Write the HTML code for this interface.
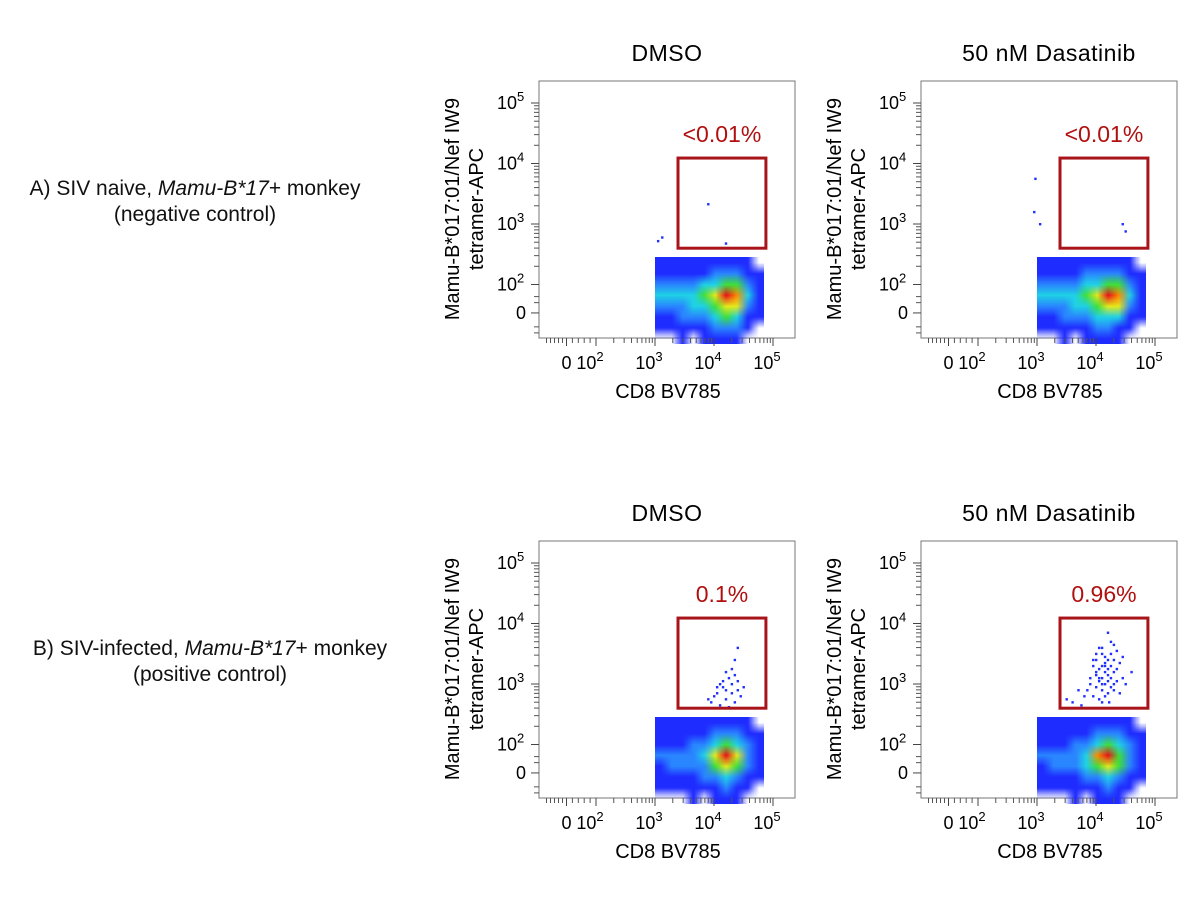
<!DOCTYPE html>
<html><head><meta charset="utf-8">
<style>
body{margin:0;background:#fff;}
#root{position:relative;width:1200px;height:908px;overflow:hidden;font-family:"Liberation Sans",sans-serif;color:#111;}
.rowlab{position:absolute;font-size:21px;text-align:center;line-height:26px;}
</style></head>
<body>
<div id="root">
<div class="rowlab" style="left:0px;top:176px;width:390px;">A) SIV naive, <i>Mamu-B*17</i>+ monkey<br>(negative control)</div>
<div class="rowlab" style="left:10px;top:636px;width:400px;">B) SIV-infected, <i>Mamu-B*17</i>+ monkey<br>(positive control)</div>
<svg id="svg" width="1200" height="908" style="position:absolute;left:0;top:0"></svg>
</div>
<script>
// ---- data ----
const panelTitles = ["DMSO","50 nM Dasatinib","DMSO","50 nM Dasatinib"];
const gateLabels = ["<0.01%","<0.01%","0.1%","0.96%"];
const gateX = [3.39,4.88]; // log10 CD8
const gateY = [2.6,4.09];  // decade units tetramer
const xTickLabels = ["0","2","3","4","5"];
const yTickLabels = ["0","2","3","4","5"];
// density grids: columns = log10 bins from 3.0 step 0.185, rows = decade-unit bins from 2.45 down step 0.18
const densA1 = [
[1,1,1,1,1,1,1,1,1,0],
[1,1,1,1,1,2,2,2,1,1],
[2,2,2,2,3,3,4,4,2,1],
[3,3,3,3,4,5,7,6,3,1],
[2,2,2,3,3,4,5,5,2,1],
[1,1,2,2,2,3,4,3,1,1],
[1,1,1,1,1,2,2,2,1,0],
[0,0,1,0,1,1,1,1,0,0]];
const densA2 = [
[1,1,1,1,1,1,1,1,1,0],
[1,1,1,1,2,2,2,2,1,1],
[2,2,2,2,3,3,4,4,2,1],
[3,3,3,3,4,5,7,6,3,1],
[2,2,2,3,3,4,5,5,2,1],
[1,1,2,2,2,3,3,3,1,1],
[1,1,1,1,1,2,2,1,1,0],
[0,0,1,0,1,1,1,1,0,0]];
const densB1 = [
[1,1,1,1,1,1,1,1,1,0],
[1,1,1,1,1,2,2,2,1,1],
[1,1,1,2,2,3,4,3,2,1],
[2,2,2,2,3,5,7,5,2,1],
[1,2,2,2,2,4,5,4,2,1],
[1,1,1,1,2,2,3,2,1,1],
[1,1,1,1,1,1,2,1,1,0],
[0,0,0,1,0,1,1,1,0,0]];
const densB2 = [
[1,1,1,1,1,1,1,1,1,0],
[1,1,1,1,1,2,2,2,1,1],
[1,1,1,2,2,3,4,3,2,1],
[2,2,2,2,3,6,7,4,2,1],
[1,2,2,2,3,4,5,4,2,1],
[1,1,1,1,2,2,3,2,1,1],
[1,1,1,1,1,1,2,1,1,0],
[0,0,0,1,0,1,1,1,0,0]];
const eventsX_A1 = [3.9,4.2,3.05,3.12];
const eventsY_A1 = [3.33,2.68,2.72,2.78];
const eventsX_A2 = [2.95,2.97,3.05,4.45,4.5];
const eventsY_A2 = [3.2,3.75,3.0,3.0,2.88];
const eventsX_B1 = [4.4,4.35,4.3,4.2,4.25,4.1,4.15,4.3,4.4,4.05,4.0,4.2,4.35,4.45,4.1,3.95,4.25,4.3,4.15,4.5,4.2,4.35,3.9,4.05,4.4,4.28];
const eventsY_B1 = [3.6,3.4,3.25,3.2,3.1,3.0,2.95,3.0,2.9,2.85,2.8,2.75,2.7,2.8,2.65,2.7,2.62,2.85,3.05,2.95,2.9,3.15,2.75,2.95,3.05,2.6];
const eventsX_B2 = [4.2,4.25,4.05,4.3,4.1,4.15,4.0,4.35,4.2,4.1,3.95,4.05,4.25,4.4,4.15,4.0,4.3,4.1,4.2,3.9,4.05,4.35,4.15,4.45,4.25,4.0,3.85,4.1,4.2,4.3,3.95,4.05,4.15,4.4,4.5,4.6,3.8,3.7,3.6,3.5,4.25,4.1,4.0,4.2,4.3,4.15,4.05,3.9,4.35,4.2,4.1,4.25,4.0,3.95,4.15,4.3,4.45,4.1,3.75,4.22];
const eventsY_B2 = [3.85,3.7,3.6,3.65,3.5,3.45,3.4,3.55,3.4,3.3,3.3,3.25,3.3,3.35,3.2,3.15,3.2,3.1,3.15,3.1,3.05,3.05,3.0,3.1,2.95,2.95,2.9,2.9,2.85,2.9,2.8,2.75,2.8,2.85,3.0,3.2,2.8,2.9,2.7,2.75,3.5,3.6,3.5,3.25,3.4,3.35,3.1,3.0,3.25,3.05,3.0,3.1,3.2,3.4,3.3,3.0,3.45,2.7,2.65,2.7];
const densities = [densA1,densA2,densB1,densB2];
const evX = [eventsX_A1,eventsX_A2,eventsX_B1,eventsX_B2];
const evY = [eventsY_A1,eventsY_A2,eventsY_B1,eventsY_B2];
const palette = ["rgba(0,0,0,0)","#1f2cff","#2a86ff","#20d2e6","#3fe03a","#e6ea1c","#ff8c00","#e8101c"];

// ---- layout ----
const NS="http://www.w3.org/2000/svg";
const svg=document.getElementById('svg');
const frames=[[539,81],[921,81],[539,541],[921,541]];
const FW=256, FH=257;
const colStep=0.185, rowStep=0.18, rowTop=2.45;
function mk(tag,attrs,parent){const e=document.createElementNS(NS,tag);for(const k in attrs)e.setAttribute(k,attrs[k]);(parent||svg).appendChild(e);return e;}

frames.forEach((f,i)=>{
  const [L,T]=f;
  const xPos=l=>L+116+(l-3)*59;
  const yPos=u=>T+22+(5-u)*60.5;
  const g=mk('g',{});
  
  
  const t=mk('text',{x:L+FW/2,y:T-20,'font-size':23,'text-anchor':'middle','font-family':'Liberation Sans','letter-spacing':'0.5'},g);
  t.textContent=panelTitles[i];
  
  
  const fr=mk('rect',{x:L,y:T,width:FW,height:FH,fill:'none',stroke:'#777','stroke-width':1},g);
  
  
  const d=densities[i];
  const rows=d.length, cols=d[0].length;
  const cv=document.createElement('canvas');cv.width=cols;cv.height=rows;
  const cx=cv.getContext('2d');
  d.forEach((r,ri)=>r.forEach((v,ci)=>{cx.fillStyle=palette[v];cx.fillRect(ci,ri,1,1);}));
  const x0=xPos(3.0), x1=xPos(3.0+colStep*cols), y0=yPos(rowTop), y1=yPos(rowTop-rowStep*rows);
  const fo=mk('foreignObject',{x:x0,y:y0,width:x1-x0,height:y1-y0},g);
  
  
  const big=document.createElement('canvas');big.width=Math.round(x1-x0);big.height=Math.round(y1-y0);
  const bx=big.getContext('2d');bx.imageSmoothingEnabled=true;bx.drawImage(cv,0,0,big.width,big.height);
  big.style.display='block';
  fo.appendChild(big);
  evX[i].forEach((xv,k)=>{
    const p=mk('rect',{x:xPos(xv)-1,y:yPos(evY[i][k])-1,width:2.4,height:2.4,fill:'#2030ff'},g);
    
    
  });
  const gx0=xPos(gateX[0]),gx1=xPos(gateX[1]),gy0=yPos(gateY[1]),gy1=yPos(gateY[0]);
  const gr=mk('rect',{x:gx0,y:gy0,width:gx1-gx0,height:gy1-gy0,fill:'none',stroke:'#a8141a','stroke-width':3},g);
  
  
  const gl=mk('text',{x:(gx0+gx1)/2,y:gy0-16,'font-size':23,'text-anchor':'middle',fill:'#b01010','font-family':'Liberation Sans'},g);
  gl.textContent=gateLabels[i];
  
  
  const B=T+FH;
  for(let dec=2;dec<5;dec++)for(let m=2;m<10;m++){const xx=xPos(dec+Math.log10(m));mk('line',{x1:xx,x2:xx,y1:B,y2:B+5,stroke:'#555'},g);}
  for(let k=1;k<6;k++){const xx=xPos(1.5)-k*4;mk('line',{x1:xx,x2:xx,y1:B,y2:B+5,stroke:'#555'},g);}
  [1.6,1.7,1.8,1.9].forEach(v=>{const xx=xPos(v);mk('line',{x1:xx,x2:xx,y1:B,y2:B+5,stroke:'#555'},g);});
  [1.5,2,3,4,5].forEach(v=>{const xx=xPos(v);mk('line',{x1:xx,x2:xx,y1:B,y2:B+8,stroke:'#444'},g);});
  const lab0=mk('text',{x:xPos(1.5),y:B+31,'font-size':18,'text-anchor':'middle','font-family':'Liberation Sans'},g);
  lab0.textContent=xTickLabels[0];
  
  
  [[2,1],[3,2],[4,3],[5,4]].forEach(([v,k])=>{
    const tx=mk('text',{x:xPos(v)-6,y:B+31,'font-size':18,'text-anchor':'middle','font-family':'Liberation Sans'},g);
    
    
    tx.textContent='10';
    const s=mk('tspan',{dy:-8,'font-size':13},tx);s.textContent=xTickLabels[k];
  });
  const xl=mk('text',{x:L+129,y:B+60,'font-size':20,'text-anchor':'middle','font-family':'Liberation Sans'},g);
  xl.textContent='CD8 BV785';
  
  
  for(let dec=2;dec<5;dec++)for(let m=2;m<10;m++){const yy=yPos(dec+Math.log10(m));mk('line',{x1:L-5,x2:L,y1:yy,y2:yy,stroke:'#555'},g);}
  [1.2,1.3,1.7,1.8].forEach(v=>{const yy=yPos(v);mk('line',{x1:L-5,x2:L,y1:yy,y2:yy,stroke:'#555'},g);});
  [1.53,2,3,4,5].forEach(v=>{const yy=yPos(v);mk('line',{x1:L-8,x2:L,y1:yy,y2:yy,stroke:'#444'},g);});
  const y0l=mk('text',{x:L-13,y:yPos(1.53)+6,'font-size':18,'text-anchor':'end','font-family':'Liberation Sans'},g);
  y0l.textContent=yTickLabels[0];
  
  
  [[2,1],[3,2],[4,3],[5,4]].forEach(([v,k])=>{
    const tx=mk('text',{x:L-42,y:yPos(v)+6,'font-size':18,'font-family':'Liberation Sans'},g);
    
    
    tx.textContent='10';
    const s=mk('tspan',{dy:-8,'font-size':13},tx);s.textContent=yTickLabels[k];
  });
  const cyy=T+128, lx=L-80;
  const yl=mk('text',{transform:`translate(${lx},${cyy}) rotate(-90)`,'font-size':20,'text-anchor':'middle','font-family':'Liberation Sans'},g);
  
  
  const s1=mk('tspan',{x:0,y:0},yl);s1.textContent='Mamu-B*017:01/Nef IW9';
  const s2=mk('tspan',{x:0,y:24},yl);s2.textContent='tetramer-APC';
});
</script>
</body></html>
